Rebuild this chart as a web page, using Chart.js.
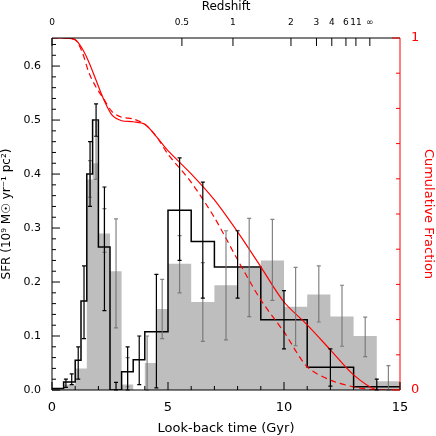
<!DOCTYPE html>
<html>
<head>
<meta charset="utf-8">
<script src="https://cdn.jsdelivr.net/npm/chart.js@4/dist/chart.umd.min.js"></script>
<style>
  html, body { margin: 0; padding: 0; background: #fff; }
  #wrap { width: 436px; height: 436px; }
</style>
</head>
<body>
<div id="wrap"><canvas id="c"></canvas></div>
<script>
// gray histogram: bin edges (Gyr) and SFR values
const grayEdges = [0, 0.5, 1.0, 1.5, 1.75, 2.0, 2.5, 3.0, 3.5, 4.0, 4.5, 5, 6, 7, 8, 9, 10, 11, 12, 13, 14, 15];
const grayVals  = [0.003, 0.01, 0.04, 0.39, 0.42, 0.29, 0.22, 0.01, 0.0, 0.05, 0.15, 0.234, 0.163, 0.194, 0.226, 0.24, 0.154, 0.177, 0.136, 0.10, 0.016];

// black step line
const blackEdges = [0, 0.5, 1.0, 1.25, 1.5, 1.75, 2.0, 2.5, 3.0, 3.5, 4.0, 5, 6, 7, 9, 11, 13, 15];
const blackVals  = [0.003, 0.015, 0.055, 0.165, 0.40, 0.50, 0.265, 0.0, 0.034, 0.056, 0.108, 0.333, 0.275, 0.228, 0.13, 0.042, 0.006];

// error bars: x, low, high
const grayErrX  = [1.64, 1.9, 2.26, 2.76, 3.26, 4.1, 4.75, 5.5, 6.5, 7.5, 8.5, 9.5, 10.5, 11.5, 12.5, 13.5, 14.5];
const grayErrLo = [0.357, 0.39, 0.255, 0.115, 0.006, 0.0, 0.095, 0.18, 0.09, 0.093, 0.136, 0.166, 0.082, 0.126, 0.081, 0.062, 0.0];
const grayErrHi = [0.425, 0.50, 0.336, 0.317, 0.06, 0.10, 0.205, 0.286, 0.236, 0.295, 0.318, 0.316, 0.227, 0.23, 0.194, 0.135, 0.045];
const blackErrX  = [0.6, 0.85, 1.13, 1.38, 1.64, 1.9, 2.26, 2.76, 3.26, 3.76, 4.5, 5.5, 6.5, 8.0, 10.0, 12.0, 14.0];
const blackErrLo = [0.005, 0.01, 0.02, 0.095, 0.34, 0.47, 0.147, 0.0, 0.0, 0.01, 0.004, 0.24, 0.17, 0.17, 0.076, 0.007, 0.0];
const blackErrHi = [0.02, 0.03, 0.08, 0.23, 0.46, 0.53, 0.376, 0.014, 0.08, 0.10, 0.214, 0.43, 0.385, 0.295, 0.184, 0.076, 0.02];

// cumulative fractions
const cumX      = [0, 0.5, 1.0, 1.3, 1.6, 1.9, 2.2, 2.6, 3.0, 3.5, 4.0, 4.5, 5.0, 6, 7, 8, 9, 10, 11, 12, 13, 14, 15];
const cumSolid  = [1, 1, 0.995, 0.97, 0.93, 0.88, 0.83, 0.78, 0.765, 0.762, 0.755, 0.72, 0.68, 0.614, 0.54, 0.449, 0.35, 0.25, 0.185, 0.114, 0.043, 0.0, 0.0];
const cumDashed = [1, 1, 0.995, 0.96, 0.90, 0.86, 0.83, 0.79, 0.775, 0.77, 0.755, 0.72, 0.67, 0.59, 0.49, 0.37, 0.256, 0.165, 0.066, 0.028, 0.009, 0.0, 0.0];

// top axis: redshift labels and their look-back times
const zLabels = ['0', '0.5', '1', '2', '3', '4', '6', '11', '∞'];
const zGyr    = [0, 5.6, 7.8, 10.3, 11.4, 12.06, 12.67, 13.1, 13.7];

function steps(edges, vals) {
    const pts = vals.map((v, i) => ({x: edges[i], y: v}));
    pts.push({x: edges[edges.length - 1], y: vals[vals.length - 1]});
    return pts;
}
const pairs = (xs, ys) => xs.map((x, i) => ({x: x, y: ys[i]}));

const FONT = 'DejaVu Sans, sans-serif';
const RED = '#ff0000';

const frame = {
    id: 'frame',
    afterDatasetsDraw(chart) {
        const {ctx, chartArea: a, scales} = chart;
        const x = scales.x, y = scales.y, y2 = scales.y2;
        const err = (xs, lo, hi, color) => {
            ctx.strokeStyle = color; ctx.lineWidth = 1.2;
            xs.forEach((v, i) => {
                const px = x.getPixelForValue(v);
                const p1 = y.getPixelForValue(lo[i]), p2 = y.getPixelForValue(hi[i]);
                ctx.beginPath();
                ctx.moveTo(px, p1); ctx.lineTo(px, p2);
                ctx.moveTo(px - 2, p1); ctx.lineTo(px + 2, p1);
                ctx.moveTo(px - 2, p2); ctx.lineTo(px + 2, p2);
                ctx.stroke();
            });
        };
        ctx.save();
        err(grayErrX, grayErrLo, grayErrHi, 'rgba(110,110,110,0.85)');
        err(blackErrX, blackErrLo, blackErrHi, '#000');

        ctx.lineWidth = 1;
        ctx.strokeStyle = '#000';
        ctx.beginPath();
        ctx.moveTo(a.right, a.top); ctx.lineTo(a.left, a.top);
        ctx.lineTo(a.left, a.bottom); ctx.lineTo(a.right, a.bottom);
        ctx.stroke();
        ctx.strokeStyle = RED;
        ctx.beginPath(); ctx.moveTo(a.right, a.top); ctx.lineTo(a.right, a.bottom); ctx.stroke();

        ctx.strokeStyle = '#000';
        ctx.beginPath();
        for (let t = 0; t <= 15; t++) {
            const px = x.getPixelForValue(t), len = t % 5 === 0 ? 8 : 4;
            ctx.moveTo(px, a.bottom); ctx.lineTo(px, a.bottom - len);
        }
        zGyr.forEach(g => {
            const px = x.getPixelForValue(g);
            ctx.moveTo(px, a.top); ctx.lineTo(px, a.top + 8);
        });
        for (let k = 0; k <= 32; k++) {
            const v = k * 0.02, py = y.getPixelForValue(v);
            const len = k % 5 === 0 ? 8 : 4;
            ctx.moveTo(a.left, py); ctx.lineTo(a.left + len, py);
        }
        ctx.stroke();
        ctx.strokeStyle = RED;
        ctx.beginPath();
        for (let k = 0; k <= 10; k++) {
            const py = y2.getPixelForValue(k / 10), len = k % 10 === 0 ? 8 : 4;
            ctx.moveTo(a.right, py); ctx.lineTo(a.right - len, py);
        }
        ctx.stroke();
        ctx.restore();
    }
};

new Chart(document.getElementById('c'), {
    type: 'line',
    data: {
        datasets: [
            {
                data: steps(blackEdges, blackVals), stepped: 'before',
                borderColor: '#000', borderWidth: 1.5, pointRadius: 0, fill: false, order: 1
            },
            {
                data: pairs(cumX, cumSolid), yAxisID: 'y2', tension: 0.3,
                borderColor: RED, borderWidth: 1.2, pointRadius: 0, fill: false, order: 0
            },
            {
                data: pairs(cumX, cumDashed), yAxisID: 'y2', tension: 0.3, borderDash: [6, 4],
                borderColor: RED, borderWidth: 1.2, pointRadius: 0, fill: false, order: 0
            },
            {
                data: steps(grayEdges, grayVals), stepped: 'before',
                borderColor: 'rgba(0,0,0,0)', borderWidth: 0, backgroundColor: '#bebebe',
                pointRadius: 0, fill: 'origin', order: 2
            }
        ]
    },
    options: {
        responsive: true,
        maintainAspectRatio: false,
        animation: false,
        layout: { padding: 0 },
        plugins: { legend: { display: false }, tooltip: { enabled: false } },
        scales: {
            x: {
                type: 'linear', min: 0, max: 15, position: 'bottom',
                afterBuildTicks: s => { s.ticks = [0, 5, 10, 15].map(v => ({value: v})); },
                afterFit: s => { s.height = 46; },
                grid: { display: false }, border: { display: false },
                ticks: { color: '#000', font: { family: FONT, size: 13 }, padding: 2 },
                title: { display: true, text: 'Look-back time (Gyr)', color: '#000', font: { family: FONT, size: 13 }, padding: 0 }
            },
            xTop: {
                type: 'linear', min: 0, max: 15, position: 'top',
                afterBuildTicks: s => { s.ticks = zGyr.map(v => ({value: v})); },
                afterFit: s => { s.height = 38; },
                grid: { display: false }, border: { display: false },
                ticks: {
                    color: '#000', font: { family: FONT, size: 9 }, padding: 2, maxRotation: 0, autoSkip: false,
                    callback: (v, i) => zLabels[i]
                },
                title: { display: true, text: 'Redshift', color: '#000', font: { family: FONT, size: 12 }, padding: 0 }
            },
            y: {
                min: 0, max: 0.652, position: 'left',
                afterBuildTicks: s => { s.ticks = [0, 0.1, 0.2, 0.3, 0.4, 0.5, 0.6].map(v => ({value: v})); },
                afterFit: s => { s.width = 52; },
                grid: { display: false }, border: { display: false },
                ticks: { color: '#000', font: { family: FONT, size: 11 }, padding: 3, callback: v => v.toFixed(1) },
                title: { display: true, text: 'SFR (10⁹ M☉ yr⁻¹ pc²)', color: '#000', font: { family: FONT, size: 12 }, padding: 0 }
            },
            y2: {
                min: 0, max: 1, position: 'right',
                afterBuildTicks: s => { s.ticks = [0, 1].map(v => ({value: v})); },
                afterFit: s => { s.width = 36; },
                grid: { display: false }, border: { display: false },
                ticks: { color: RED, font: { family: FONT, size: 13 }, padding: 3 },
                title: { display: true, text: 'Cumulative Fraction', color: RED, font: { family: FONT, size: 13 }, padding: 0 }
            }
        }
    },
    plugins: [frame]
});
</script>
</body>
</html>
